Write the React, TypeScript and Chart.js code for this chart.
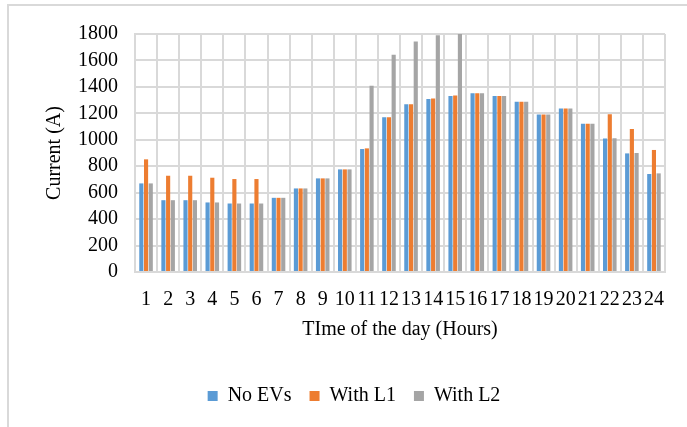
import React, { useEffect, useRef } from "react";
import { Chart, registerables } from "chart.js";

Chart.register(...registerables);

const hours = ["1", "2", "3", "4", "5", "6", "7", "8", "9", "10", "11", "12", "13", "14", "15", "16", "17", "18", "19", "20", "21", "22", "23", "24"];
const noEVs = [670, 543, 543, 526, 518, 518, 561, 632, 708, 776, 930, 1170, 1269, 1309, 1332, 1352, 1332, 1287, 1191, 1236, 1122, 1009, 897, 741];
const withL1 = [852, 728, 728, 713, 703, 703, 561, 632, 708, 776, 935, 1170, 1269, 1312, 1335, 1352, 1332, 1287, 1191, 1236, 1122, 1193, 1082, 923];
const withL2 = [670, 543, 543, 526, 518, 518, 561, 632, 708, 776, 1408, 1643, 1744, 1790, 1830, 1352, 1332, 1287, 1191, 1236, 1122, 1011, 900, 746];
const yMin = 0;
const yMax = 1800;
const yStep = 200;

export default function App() {
  const ref = useRef<HTMLCanvasElement>(null);
  useEffect(() => {
    const font = { family: "'Liberation Serif', 'Times New Roman', serif", size: 20 };
    const gridColor = "#d9d9d9";
    const chart = new Chart(ref.current!, {
      type: "bar",
      data: {
        labels: hours,
        datasets: [
          { label: "No EVs", data: noEVs, backgroundColor: "#5B9BD5" },
          { label: "With L1", data: withL1, backgroundColor: "#ED7D31" },
          { label: "With L2", data: withL2, backgroundColor: "#A5A5A5" },
        ],
      },
      options: {
        animation: false,
        responsive: false,
        maintainAspectRatio: false,
        layout: { padding: { left: 43, right: 22, top: 34, bottom: 11 } },
        datasets: { bar: { categoryPercentage: 0.64, barPercentage: 0.88 } },
        plugins: {
          legend: {
            position: "bottom",
            labels: { boxWidth: 10, boxHeight: 10, padding: 18, font, color: "#000" },
          },
          tooltip: { enabled: false },
        },
        scales: {
          x: {
            grid: { color: gridColor, lineWidth: 2, drawTicks: false, offset: true },
            border: { color: gridColor, width: 2 },
            ticks: { font, color: "#000", padding: 16, maxRotation: 0, autoSkip: false },
            title: { display: true, text: "TIme of the day (Hours)", font, color: "#000", padding: { top: 0, bottom: 26 } },
            afterFit: (s: any) => { s.height = 96; },
          },
          y: {
            min: yMin,
            max: yMax,
            ticks: { stepSize: yStep, font, color: "#000", padding: 17, autoSkip: false, callback: (v: any) => String(v) },
            grid: { color: gridColor, lineWidth: 2, drawTicks: false },
            border: { color: gridColor, width: 2 },
            title: { display: true, text: "Current (A)", font, color: "#000", padding: 0 },
            afterFit: (s: any) => { s.width = 92; },
          },
        },
      },
    });
    return () => chart.destroy();
  }, []);
  return (
    <div style={{ position: "fixed", left: 0, top: 0, width: 687, height: 427, background: "#fff", overflow: "hidden" }}>
      <div style={{ position: "absolute", left: 7, top: 4, width: 700, height: 440, borderLeft: "2px solid #d9d9d9", borderTop: "2px solid #d9d9d9" }} />
      <canvas ref={ref} width={687} height={427} style={{ position: "absolute", left: 0, top: 0 }} />
    </div>
  );
}
